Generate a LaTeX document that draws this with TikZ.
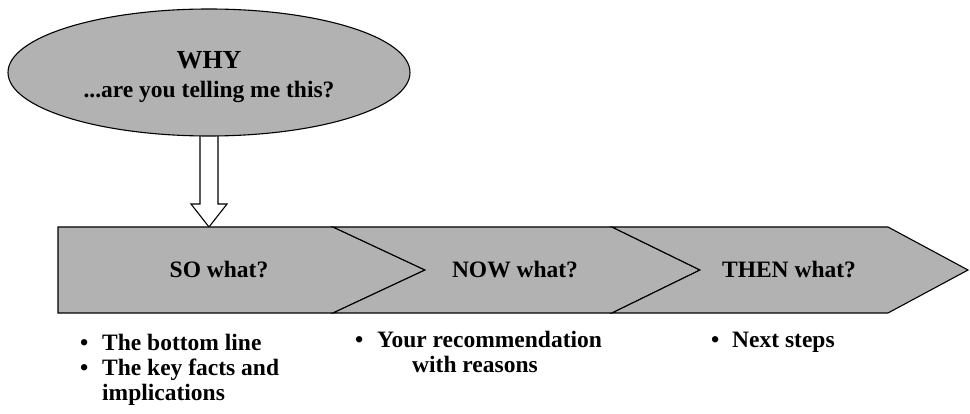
\documentclass[tikz,border=0pt]{standalone}
\usepackage{fontspec}
\setmainfont{Liberation Serif}
\usetikzlibrary{shapes.geometric}
\definecolor{boxgray}{RGB}{178,178,178}
\begin{document}
\begin{tikzpicture}[x=1pt,y=-1pt,
  outl/.style={draw=black, line width=1.1pt, line join=miter},
  grayshape/.style={outl, fill=boxgray},
  lbl/.style={font=\bfseries\fontsize{23.5}{24}\selectfont, inner sep=0, anchor=base},
  bul/.style={font=\bfseries\fontsize{23.5}{24.5}\selectfont, anchor=base west, inner sep=0}]
\useasboundingbox (0,0) rectangle (970,414);
% hollow arrow
\coordinate (atop) at (209,135);
\coordinate (atip) at (209,227);
\draw[outl, fill=white] ([xshift=-9pt]atop) -- ([xshift=-9pt]atop |- 0,204) -- ([xshift=-18pt]atip |- 0,204) -- (atip)
  -- ([xshift=18pt]atip |- 0,204) -- ([xshift=9pt]atop |- 0,204) -- ([xshift=9pt]atop);
% ellipse
\node[ellipse, grayshape, minimum width=402pt, minimum height=127pt, inner sep=0] (why) at (209,72.5) {};
\node[lbl, font=\bfseries\fontsize{26}{28}\selectfont] (whyt) at (209,69) {WHY};
\node[lbl] (whys) at (209,98) {...are you telling me this?};
% chevrons
\draw[grayshape] (58,227) -- (333,227) -- (425,270) -- (333,313) -- (58,313) -- cycle;
\draw[grayshape] (333,227) -- (612,227) -- (700,270) -- (612,313) -- (333,313) -- (425,270) -- cycle;
\draw[grayshape] (612,227) -- (888,227) -- (968,270) -- (888,313) -- (612,313) -- (700,270) -- cycle;
\node[lbl] (so) at (219,278) {SO what?};
\node[lbl] (now) at (515,278) {NOW what?};
\node[lbl] (then) at (789,278) {THEN what?};
% bullets
\node[bul] (b1) at (80,351) {•};
\node[bul] (t1) at (102,351) {The bottom line};
\node[bul] (b2) at (80,375.5) {•};
\node[bul] (t2) at (102,375.5) {The key facts and};
\node[bul] (t2b) at (102,400) {implications};
\node[bul] (b3) at (355,348) {•};
\node[bul] (t3) at (377,348) {Your recommendation};
\node[bul] (t3b) at (412,372) {with reasons};
\node[bul] (b4) at (711,348) {•};
\node[bul] (t4) at (732,348) {Next steps};
\end{tikzpicture}
\end{document}
